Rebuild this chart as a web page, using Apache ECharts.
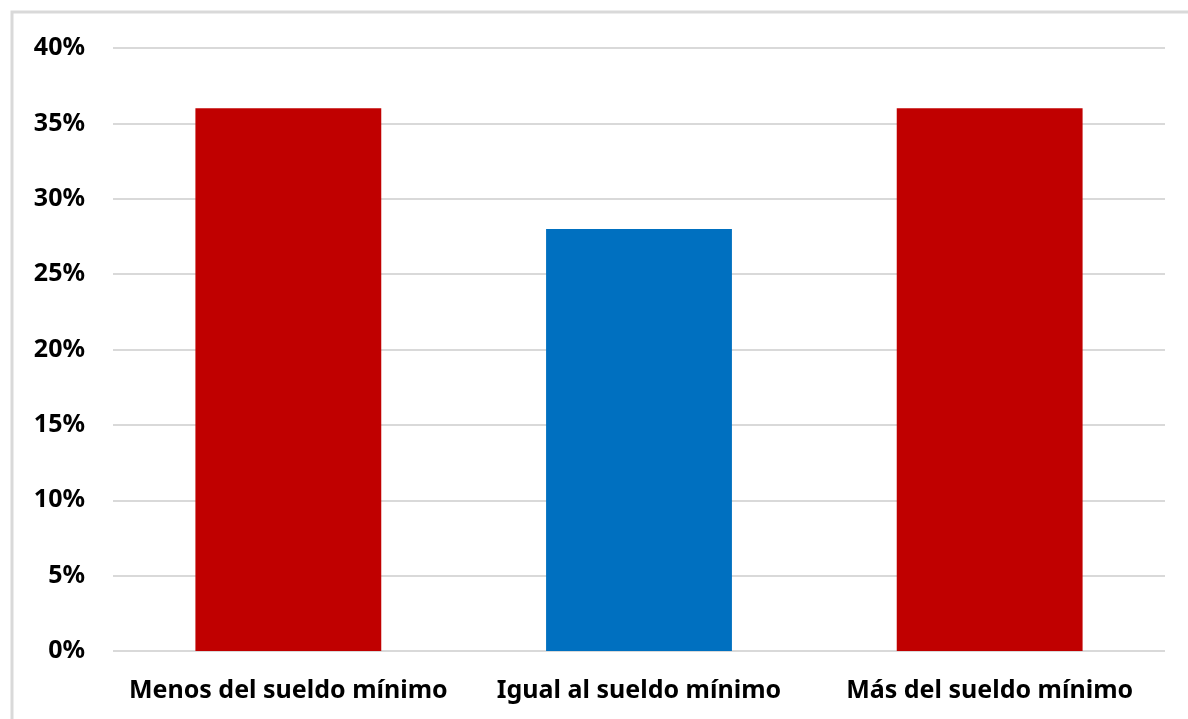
<!DOCTYPE html>
<html>
<head>
<meta charset="utf-8">
<script src="https://cdn.jsdelivr.net/npm/echarts@6/dist/echarts.min.js"></script>
<style>
html,body{margin:0;padding:0;background:#fff;}
#chart{width:1188px;height:719px;}
</style>
</head>
<body>
<div id="chart"></div>
<script>
const categories = ["Menos del sueldo mínimo", "Igual al sueldo mínimo", "Más del sueldo mínimo"];
const values = [36, 28, 36];
const barColors = ["#C00000", "#0070C0", "#C00000"];

const chart = echarts.init(document.getElementById('chart'));
chart.setOption({
  backgroundColor: '#ffffff',
  animation: false,
  graphic: [{
    type: 'rect',
    shape: { x: 12, y: 12, width: 1200, height: 760 },
    style: { fill: 'none', stroke: '#d9d9d9', lineWidth: 3 },
    silent: true
  }],
  grid: { left: 113, right: 23, top: 48, bottom: 68 },
  xAxis: {
    type: 'category',
    data: categories,
    axisLine: { show: false },
    axisTick: { show: false },
    axisLabel: {
      interval: 0,
      hideOverlap: false,
      margin: 27,
      fontFamily: 'Noto Sans',
      fontWeight: 'bold',
      fontSize: 25,
      color: '#000'
    }
  },
  yAxis: {
    type: 'value',
    min: 0,
    max: 40,
    interval: 5,
    axisLine: { show: false },
    axisTick: { show: false },
    splitLine: { lineStyle: { color: '#d9d9d9', width: 2 } },
    axisLabel: {
      margin: 28,
      formatter: '{value}%',
      fontFamily: 'Noto Sans',
      fontWeight: 'bold',
      fontSize: 25,
      color: '#000'
    }
  },
  series: [{
    type: 'bar',
    data: values.map((v, i) => ({ value: v, itemStyle: { color: barColors[i] } })),
    barWidth: '53%'
  }]
});
</script>
</body>
</html>
